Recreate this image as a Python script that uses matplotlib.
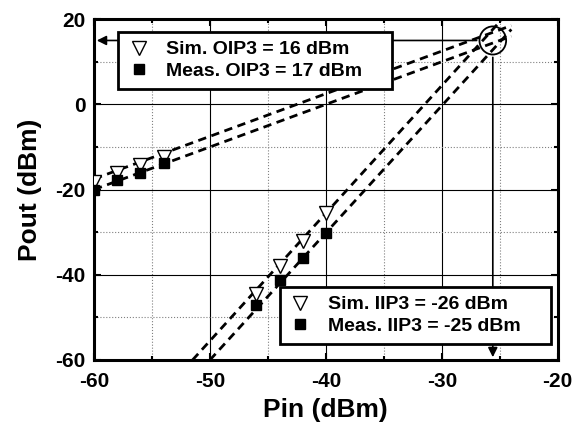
import numpy as np
import matplotlib.pyplot as plt
from matplotlib.patches import Ellipse
from matplotlib.lines import Line2D

plt.rcParams['font.family'] = ['Liberation Sans', 'DejaVu Sans']
plt.rcParams['font.weight'] = 'bold'
plt.rcParams['axes.unicode_minus'] = False

# Fundamental tone
pin_fund = [-60, -58, -56, -54]
sim_fund = [-18.3, -16.1, -14.3, -12.3]
meas_fund = [-20.2, -17.8, -16.0, -13.8]

# Third-order intermod
pin_im3 = [-46, -44, -42, -40]
sim_im3 = [-44.5, -37.9, -32.0, -25.6]
meas_im3 = [-47.0, -41.3, -36.0, -30.2]

# Extrapolation lines (end points)
fund_sim_x = [-60, -24.0]
fund_sim_y = [-17.5, 18.5]
fund_meas_x = [-60, -24.0]
fund_meas_y = [-20.0, 16.0]
im3_sim_x = [-51.5, -24.8]
im3_sim_y = [-60, 20]
im3_meas_x = [-50.0, -24.0]
im3_meas_y = [-60, 17.6]

# intercept point
ip_x, ip_y = -25.6, 15.0

fig = plt.figure(figsize=(5.84, 4.26), dpi=100)
ax = fig.add_axes([0.161, 0.155, 0.794, 0.80])

dash = dict(color='black', lw=2, linestyle=(0, (3, 2)))
ax.plot(fund_sim_x, fund_sim_y, **dash, zorder=3)
ax.plot(fund_meas_x, fund_meas_y, **dash, zorder=3)
ax.plot(im3_sim_x, im3_sim_y, **dash, zorder=3)
ax.plot(im3_meas_x, im3_meas_y, **dash, zorder=3)

tri = dict(marker='v', ms=10, mfc='white', mec='black', mew=1, linestyle='none', zorder=5)
sq = dict(marker='s', ms=7, mfc='black', mec='black', linestyle='none', zorder=5)
ax.plot(pin_fund, sim_fund, **tri)
ax.plot(pin_fund, meas_fund, **sq)
ax.plot(pin_im3, sim_im3, **tri)
ax.plot(pin_im3, meas_im3, **sq)

# intercept markers
ax.add_patch(Ellipse((ip_x, ip_y), 2.3, 6.6, fill=False, ec='black', lw=1.3, zorder=6))
ax.annotate('', xy=(-60, ip_y), xytext=(ip_x - 1.15, ip_y),
            arrowprops=dict(arrowstyle='-|>', color='black', lw=1.2, mutation_scale=14), zorder=2)
ax.annotate('', xy=(ip_x, -60), xytext=(ip_x, ip_y - 3.3),
            arrowprops=dict(arrowstyle='-|>', color='black', lw=1.2, mutation_scale=14), zorder=2)

ax.set_xlim(-60, -20)
ax.set_ylim(-60, 20)
ax.set_xticks([-60, -50, -40, -30, -20])
ax.set_yticks([-60, -40, -20, 0, 20])
ax.set_xticks([-55, -45, -35, -25], minor=True)
ax.set_yticks([-50, -30, -10, 10], minor=True)
ax.grid(True, which='major', color='black', lw=0.8)
ax.grid(True, which='minor', color='gray', lw=0.8, linestyle=':')
ax.set_axisbelow(True)
ax.tick_params(which='both', direction='in', top=True, right=True, width=1.5)
ax.tick_params(which='major', length=5, labelsize=15)
ax.tick_params(axis='x', which='major', pad=9)
ax.tick_params(axis='y', which='major', pad=6)
ax.tick_params(which='minor', length=3)
for s in ax.spines.values():
    s.set_linewidth(2.2)
for lab in ax.get_xticklabels() + ax.get_yticklabels():
    lab.set_fontweight('bold')

ax.set_xlabel('Pin (dBm)', fontsize=19, fontweight='bold', labelpad=5)
ax.set_ylabel('Pout (dBm)', fontsize=19, fontweight='bold', labelpad=10)

h_sim = Line2D([], [], **tri)
h_meas = Line2D([], [], **sq)
leg_kw = dict(frameon=True, fancybox=False, framealpha=1, edgecolor='black',
              prop=dict(weight='bold', size=14), handletextpad=0.8, borderpad=0.45,
              labelspacing=0.2, handlelength=1.2, borderaxespad=0, loc='upper left')
leg1 = ax.legend([h_sim, h_meas], ['Sim. OIP3 = 16 dBm', 'Meas. OIP3 = 17 dBm    '],
                 bbox_to_anchor=(0.052, 0.962), **leg_kw)
leg1.get_frame().set_linewidth(2)
leg1.set_zorder(10)
ax.add_artist(leg1)
leg2 = ax.legend([h_sim, h_meas], ['Sim. IIP3 = -26 dBm', 'Meas. IIP3 = -25 dBm    '],
                 bbox_to_anchor=(0.401, 0.214), **leg_kw)
leg2.get_frame().set_linewidth(2)
leg2.set_zorder(10)

fig.savefig('out.png', dpi=100)
